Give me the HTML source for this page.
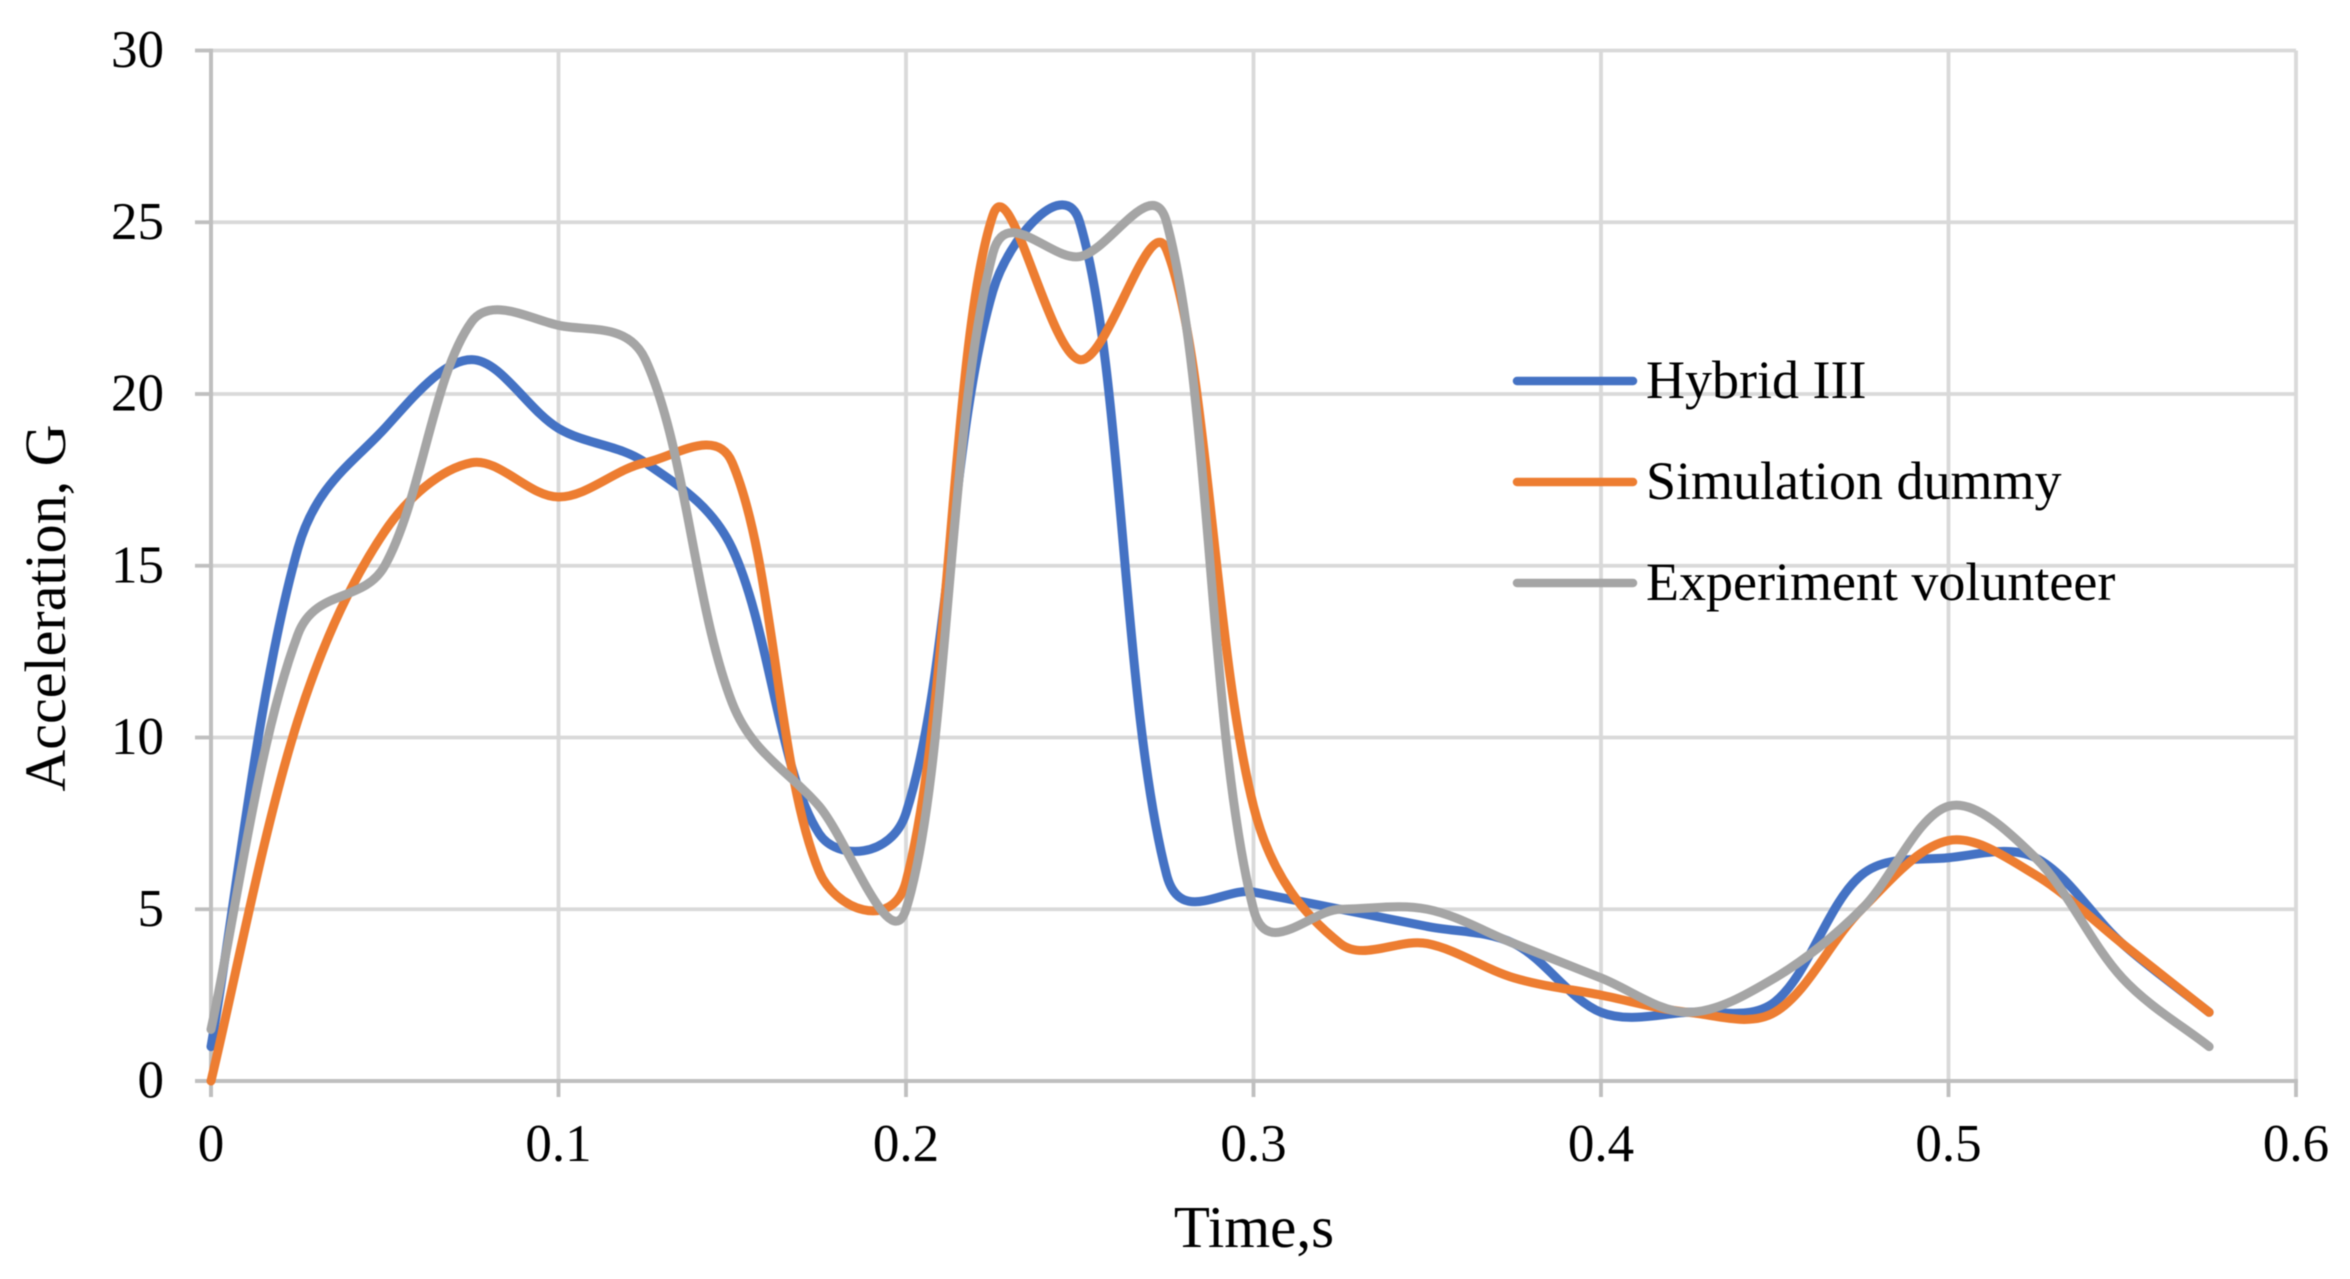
<!DOCTYPE html>
<html lang="en">
<head>
<meta charset="utf-8">
<title>Acceleration vs Time</title>
<style>
  html, body { margin: 0; padding: 0; background: #fff; }
  svg { display: block; filter: blur(0.6px); }
  text { font-family: "Liberation Serif", "Times New Roman", serif; fill: #000; }
</style>
</head>
<body>
<svg id="chart" xmlns="http://www.w3.org/2000/svg" width="2350" height="1279" viewBox="0 0 2350 1279">
  <rect x="0" y="0" width="2350" height="1279" fill="#ffffff"/>
  <g id="grid"></g>
  <g id="axes"></g>
  <g id="series"></g>
  <g id="labels"></g>
  <text x="1254" y="1247" font-size="59" text-anchor="middle">Time,s</text>
  <text transform="translate(65 608) rotate(-90)" font-size="58" text-anchor="middle">Acceleration, G</text>
  <g>
    <g>
      <line x1="1517" y1="381" x2="1633" y2="381" stroke="#4472c4" stroke-width="8.5" stroke-linecap="round"/>
      <text x="1646" y="398" font-size="54">Hybrid III</text>
    </g>
    <g>
      <line x1="1517" y1="482" x2="1633" y2="482" stroke="#ed7d31" stroke-width="8.5" stroke-linecap="round"/>
      <text x="1646" y="499" font-size="54">Simulation dummy</text>
    </g>
    <g>
      <line x1="1517" y1="583" x2="1633" y2="583" stroke="#a5a5a5" stroke-width="8.5" stroke-linecap="round"/>
      <text x="1646" y="600" font-size="54">Experiment volunteer</text>
    </g>
  </g>
</svg>
<script>
const times = [0, 0.025, 0.05, 0.075, 0.1, 0.125, 0.15, 0.175, 0.2, 0.225, 0.25, 0.275, 0.3, 0.325, 0.35, 0.375, 0.4, 0.425, 0.45, 0.475, 0.5, 0.525, 0.55, 0.575];
const hybridIII = [1, 15.5, 19, 21, 19, 18, 15.5, 7.2, 7.8, 23, 25, 6, 5.5, 5, 4.5, 4, 2, 2, 2.3, 6, 6.5, 6.5, 4, 2];
const simulationDummy = [0, 10.5, 16, 18, 17, 18, 18, 6.1, 5.8, 25.2, 21, 24.2, 8, 4, 4, 3, 2.5, 2, 2, 5, 7, 6, 4, 2];
const experimentVolunteer = [1.5, 13, 15, 22.1, 22, 21, 11, 8, 5, 24.1, 24, 25, 5, 5, 5, 4, 3, 2, 3, 5, 8, 6.5, 3, 1];
const xTicks = [0, 0.1, 0.2, 0.3, 0.4, 0.5, 0.6];
const yTicks = [0, 5, 10, 15, 20, 25, 30];

const SVG_NS = 'http://www.w3.org/2000/svg';
const LEFT = 211, RIGHT = 2296, TOP = 50.5, BOTTOM = 1081;
const X_MAX = 0.6, Y_MAX = 30;
const UNIFORM_BLEND = 0.3;
function xOf(t) { return LEFT + (t / X_MAX) * (RIGHT - LEFT); }
function yOf(v) { return BOTTOM - (v / Y_MAX) * (BOTTOM - TOP); }

function make(tag, parent, attrs) {
  const el = document.createElementNS(SVG_NS, tag);
  Object.keys(attrs).forEach(function (k) { el.setAttribute(k, attrs[k]); });
  parent.appendChild(el);
  return el;
}

const grid = document.getElementById('grid');
const axes = document.getElementById('axes');
const labels = document.getElementById('labels');
const seriesGroup = document.getElementById('series');

yTicks.forEach(function (v) {
  const y = yOf(v);
  if (v !== 0) {
    const g = make('line', grid, { x1: LEFT, y1: y, x2: RIGHT, y2: y, stroke: '#d9d9d9', 'stroke-width': 3.8 });
    
    
  }
  const tick = make('line', axes, { x1: 195, y1: y, x2: LEFT, y2: y, stroke: '#bfbfbf', 'stroke-width': 3.8 });
  
  
  const label = make('text', labels, { x: 164, y: y + 16.5, 'font-size': 53, 'text-anchor': 'end' });
  
  
  label.textContent = String(v);
});

xTicks.forEach(function (t) {
  const x = xOf(t);
  if (t !== 0) {
    const g = make('line', grid, { x1: x, y1: TOP, x2: x, y2: BOTTOM, stroke: '#d9d9d9', 'stroke-width': 3.8 });
    
    
  }
  const tick = make('line', axes, { x1: x, y1: BOTTOM, x2: x, y2: 1097, stroke: '#bfbfbf', 'stroke-width': 3.8 });
  
  
  const label = make('text', labels, { x: x, y: 1161, 'font-size': 53, 'text-anchor': 'middle' });
  
  
  label.textContent = String(t);
});

const yAxisLine = make('line', axes, { x1: LEFT, y1: TOP - 1.9, x2: LEFT, y2: 1097, stroke: '#bfbfbf', 'stroke-width': 4 });


const xAxisLine = make('line', axes, { x1: 195, y1: BOTTOM, x2: RIGHT + 1.9, y2: BOTTOM, stroke: '#bfbfbf', 'stroke-width': 4 });



function dist(a, b) { return Math.hypot(b[0] - a[0], b[1] - a[1]); }
function handle(chordShare) { return UNIFORM_BLEND / 6 + (1 - UNIFORM_BLEND) * chordShare / 3; }

function smoothPath(ts, vs) {
  const pts = ts.map(function (t, i) { return [xOf(t), yOf(vs[i])]; });
  let d = 'M' + pts[0][0].toFixed(2) + ' ' + pts[0][1].toFixed(2);
  for (let i = 0; i < pts.length - 1; i++) {
    const p0 = pts[Math.max(i - 1, 0)];
    const p1 = pts[i];
    const p2 = pts[i + 1];
    const p3 = pts[Math.min(i + 2, pts.length - 1)];
    const d01 = dist(p0, p1), d12 = dist(p1, p2), d23 = dist(p2, p3);
    const f1 = handle(d01 + d12 > 0 ? d12 / (d01 + d12) : 0);
    const f2 = handle(d12 + d23 > 0 ? d12 / (d12 + d23) : 0);
    const c1x = p1[0] + (p2[0] - p0[0]) * f1;
    const c1y = p1[1] + (p2[1] - p0[1]) * f1;
    const c2x = p2[0] - (p3[0] - p1[0]) * f2;
    const c2y = p2[1] - (p3[1] - p1[1]) * f2;
    d += ' C' + c1x.toFixed(2) + ' ' + c1y.toFixed(2) + ' ' + c2x.toFixed(2) + ' ' + c2y.toFixed(2) + ' ' + p2[0].toFixed(2) + ' ' + p2[1].toFixed(2);
  }
  return d;
}

const hybridLine = make('path', seriesGroup, { d: smoothPath(times, hybridIII), fill: 'none', stroke: '#4472c4', 'stroke-width': 9, 'stroke-linecap': 'round', 'stroke-linejoin': 'round' });


const simulationLine = make('path', seriesGroup, { d: smoothPath(times, simulationDummy), fill: 'none', stroke: '#ed7d31', 'stroke-width': 9, 'stroke-linecap': 'round', 'stroke-linejoin': 'round' });


const experimentLine = make('path', seriesGroup, { d: smoothPath(times, experimentVolunteer), fill: 'none', stroke: '#a5a5a5', 'stroke-width': 9, 'stroke-linecap': 'round', 'stroke-linejoin': 'round' });


</script>
</body>
</html>
